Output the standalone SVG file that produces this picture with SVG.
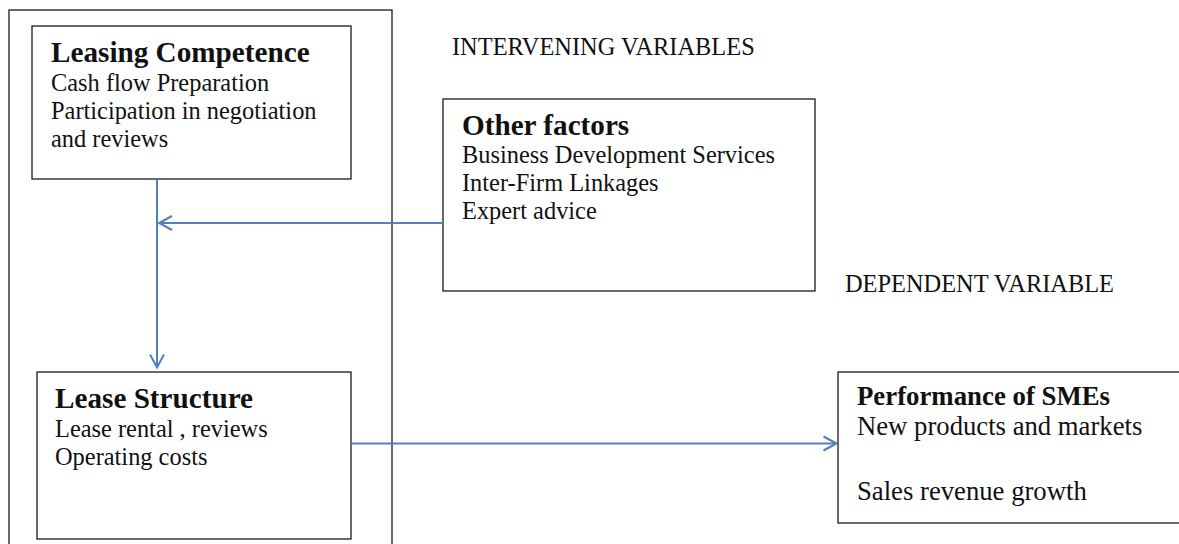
<svg xmlns="http://www.w3.org/2000/svg" width="1179" height="544" viewBox="0 0 1179 544">
  <style>
    .box { fill: #ffffff; stroke: #1a1a1a; stroke-width: 1.3; }
    .frame { fill: none; stroke: #1a1a1a; stroke-width: 1.3; }
    .t { font-family: "Liberation Serif", "Times New Roman", serif; fill: #111111; }
    .title { font-weight: bold; font-size: 29.2px; }
    .body { font-size: 24.4px; }
    .ptitle { font-weight: bold; font-size: 26.8px; }
    .pbody { font-size: 26.7px; }
    .label { font-size: 24.4px; }
    .conn { fill: none; stroke: #4F81BD; stroke-width: 2; }
  </style>
  <defs>
    <marker id="arrow" markerUnits="userSpaceOnUse" markerWidth="20" markerHeight="20" viewBox="-15 -10 20 20" refX="0" refY="0" orient="auto">
      <path d="M-13,-7 L0,0 L-13,7" fill="none" stroke="#4F81BD" stroke-width="2"/>
    </marker>
  </defs>
  <rect width="1179" height="544" fill="#ffffff"/>

  <g id="independent-frame">
    <rect class="frame" x="9" y="10" width="383" height="545"/>
  </g>

  <g id="leasing-competence">
    <rect class="box" x="32" y="26" width="319" height="153"/>
    <text class="t title" x="51" y="62">Leasing Competence</text>
    <text class="t body" x="51" y="90.5">Cash flow Preparation</text>
    <text class="t body" x="51" y="118.5">Participation in negotiation</text>
    <text class="t body" x="51" y="146.5">and reviews</text>
  </g>

  <g id="lease-structure">
    <rect class="box" x="37" y="372" width="314" height="167"/>
    <text class="t title" x="55" y="407.5">Lease Structure</text>
    <text class="t body" x="55" y="436.5">Lease rental , reviews</text>
    <text class="t body" x="55" y="465">Operating costs</text>
  </g>

  <g id="intervening-label">
    <text class="t label" x="452" y="55">INTERVENING VARIABLES</text>
  </g>

  <g id="other-factors">
    <rect class="box" x="443" y="99" width="372" height="192"/>
    <text class="t title" x="462" y="135">Other factors</text>
    <text class="t body" x="462" y="163">Business Development Services</text>
    <text class="t body" x="462" y="191">Inter-Firm Linkages</text>
    <text class="t body" x="462" y="219">Expert advice</text>
  </g>

  <g id="dependent-label">
    <text class="t label" x="845" y="291.5">DEPENDENT VARIABLE</text>
  </g>

  <g id="performance-smes">
    <rect class="box" x="838" y="372" width="350" height="151"/>
    <text class="t ptitle" x="857" y="405">Performance of SMEs</text>
    <text class="t pbody" x="857" y="435">New products and markets</text>
    <text class="t pbody" x="857" y="500">Sales revenue growth</text>
  </g>

  <g id="connectors">
    <path class="conn" d="M157,179 V367.5" marker-end="url(#arrow)"/>
    <path class="conn" d="M443,223 H159" marker-end="url(#arrow)"/>
    <path class="conn" d="M351,443.5 H836.5" marker-end="url(#arrow)"/>
  </g>
</svg>
